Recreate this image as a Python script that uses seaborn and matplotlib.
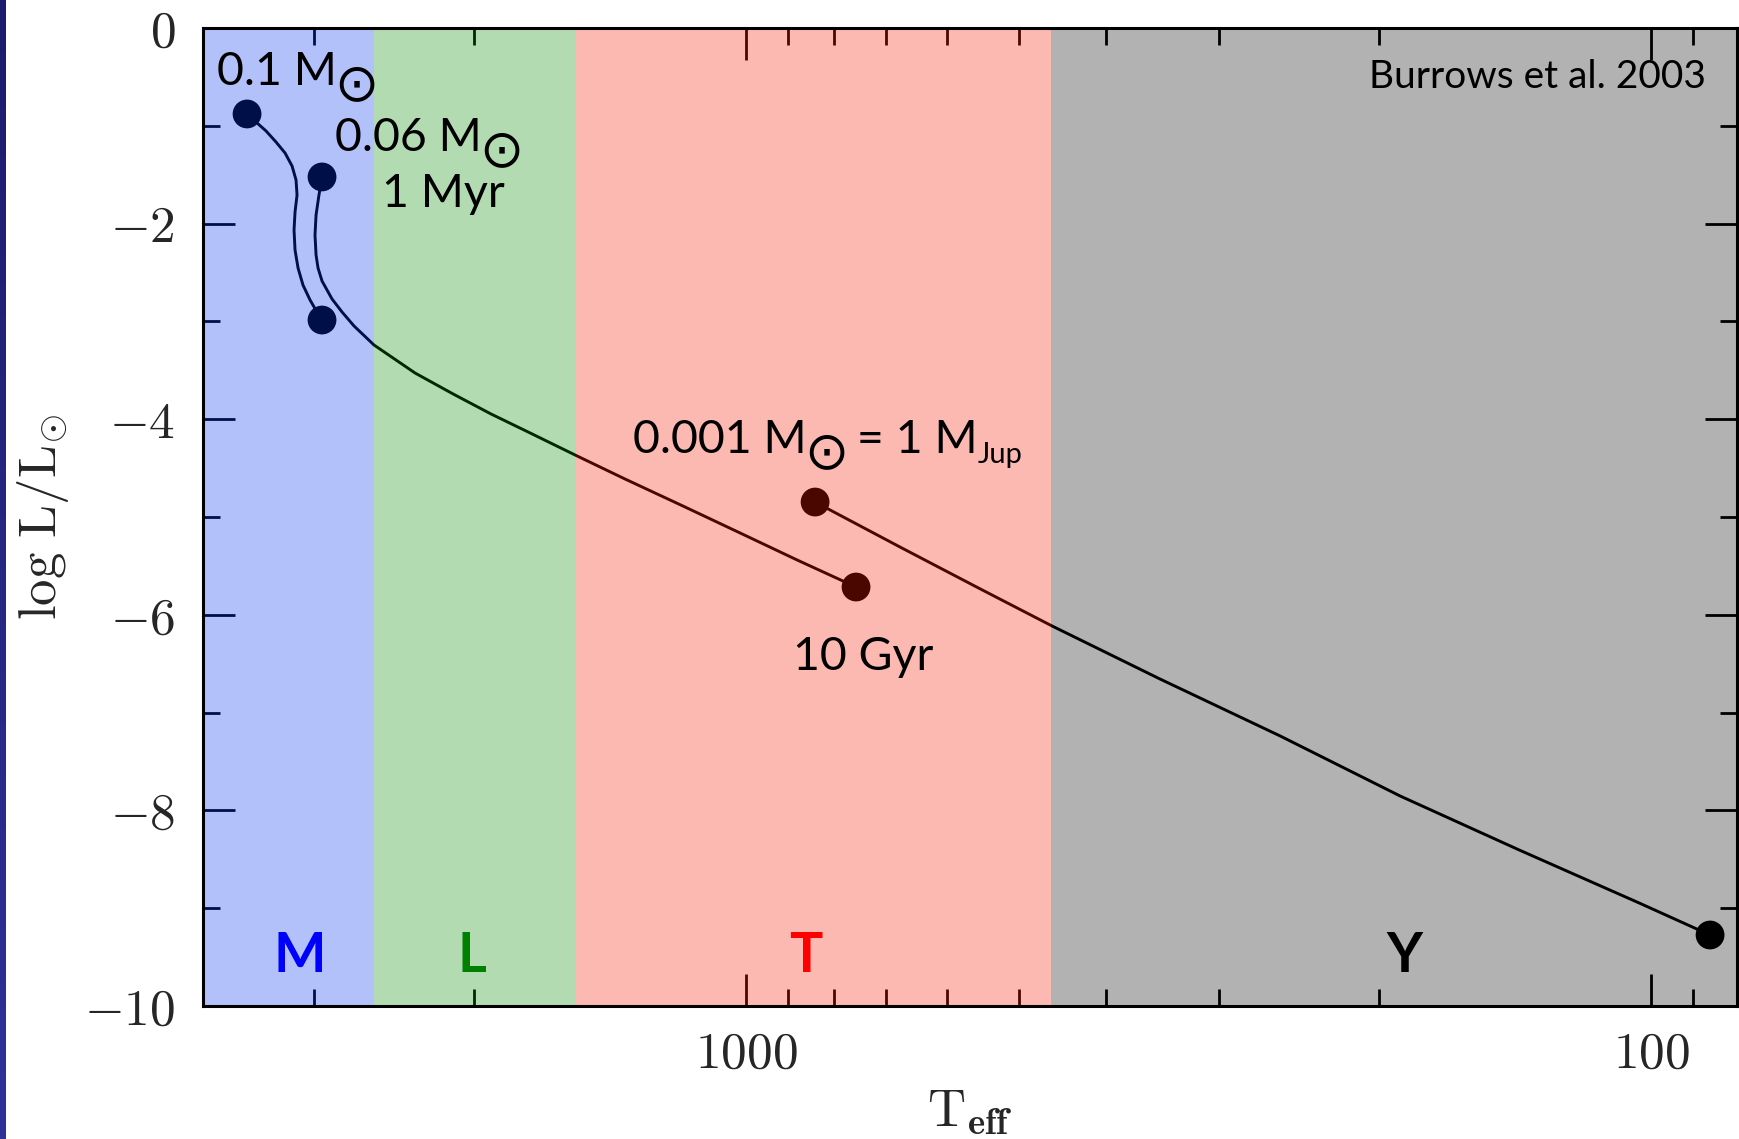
import numpy as np
import pandas as pd
import matplotlib
matplotlib.use("Agg")
import matplotlib.pyplot as plt
import matplotlib.transforms as mtransforms
import seaborn as sns
from matplotlib.ticker import FixedLocator, FixedFormatter, NullFormatter

# ---------------- data ----------------
track_01_T = [3559, 3479, 3391, 3306, 3231, 3174, 3142, 3134, 3150, 3158, 3150, 3126,
              3087, 3032, 2979, 2941]
track_01_L = [-0.879, -0.961, -1.053, -1.166, -1.278, -1.411, -1.554, -1.708, -1.881, -2.065,
              -2.270, -2.454, -2.628, -2.781, -2.904, -2.986]

track_006_T = [2941, 2964, 2986, 2994, 2986, 2971, 2941, 2867, 2795, 2711, 2577, 2321, 2107,
               1913, 1732, 1537, 1361, 1174, 1015, 878, 756]
track_006_L = [-1.523, -1.708, -1.912, -2.117, -2.321, -2.454, -2.587, -2.771, -2.904, -3.047,
               -3.241, -3.528, -3.742, -3.947, -4.141, -4.376, -4.611, -4.888, -5.164, -5.440,
               -5.716]

track_0001_T = [839, 676, 551, 459, 349, 257, 189.4, 139.9, 103.1, 86.1]
track_0001_L = [-4.847, -5.307, -5.736, -6.115, -6.656, -7.239, -7.853, -8.405, -8.947, -9.274]

track_names = ["0.1", "0.06", "0.001"]

band_edges_T = [6000, 2580, 1540, 460, 50]
band_names = ["M", "L", "T", "Y"]
band_colors = ["#0234ee", "#008a00", "#f81900", "#000000"]
band_text_colors = ["#0000ff", "#008000", "#ff0000", "#000000"]
band_label_T = [3110, 2009, 859, 187.5]

x_major = [1000, 100]
x_major_labels = ["$1000$", "$100$"]
x_minor = [3000, 2000, 900, 800, 700, 600, 500, 400, 300, 200, 90]
y_major = [0, -2, -4, -6, -8, -10]
y_major_labels = ["$0$", "$-2$", "$-4$", "$-6$", "$-8$", "$-10$"]
y_minor = [-1, -3, -5, -7, -9]

# ---------------- frames ----------------
tracks = pd.concat([
    pd.DataFrame({"track": n, "T": t, "logL": l})
    for n, t, l in zip(track_names,
                       [track_01_T, track_006_T, track_0001_T],
                       [track_01_L, track_006_L, track_0001_L])
], ignore_index=True)
dots = pd.concat([g.iloc[[0, -1]] for _, g in tracks.groupby("track", sort=False)],
                 ignore_index=True)

# ---------------- style ----------------
sns.set_style("ticks")
plt.rcParams["font.family"] = ["Lato", "DejaVu Sans"]
plt.rcParams["mathtext.fontset"] = "cm"

W, H = 1739, 1139
fig = plt.figure(figsize=(W / 100, H / 100), dpi=100, facecolor="white")
ax = fig.add_axes([203 / W, 1 - 1006 / H, (1737 - 203) / W, (1006 - 28) / H])
ax.set_facecolor("white")

# navy strip on left edge of slide
sax = fig.add_axes([0, 0, 6 / W, 1])
grad = np.linspace(0, 1, 256)[:, None, None]
top = np.array([28, 28, 108]) / 255
bot = np.array([46, 50, 152]) / 255
sax.imshow(top + (bot - top) * grad, aspect="auto", extent=[0, 1, 0, 1])
sax.set_axis_off()

# tracks and dots
sns.lineplot(data=tracks, x="T", y="logL", units="track", estimator=None, sort=False,
             color="black", linewidth=2.1, ax=ax, legend=False, zorder=2)
sns.scatterplot(data=dots, x="T", y="logL", s=430, color="black", edgecolor="none",
                ax=ax, legend=False, zorder=2.2)

ax.set_xscale("log")
ax.set_xlim(3981, 80.4)
ax.set_ylim(-10, 0)

# spectral class bands (translucent overlay)
for lo, hi, c in zip(band_edges_T[:-1], band_edges_T[1:], band_colors):
    ax.axvspan(lo, hi, color=c, alpha=0.3, lw=0, zorder=3)
for name, tx, c in zip(band_names, band_label_T, band_text_colors):
    ax.text(tx, -9.65, name, color=c, fontsize=40, fontweight="bold",
            ha="center", va="baseline", zorder=6)

# ---------------- annotations (laid out segment by segment) ----------------
renderer = fig.canvas.get_renderer()
ident = mtransforms.IdentityTransform()
AFS = 33.5
SUN = ("$\\odot$", dict(fontsize=38, math_fontfamily="dejavusans", va="center"), -3, -2)


def seg(s, dy=0, gap=0, **kw):
    kw.setdefault("fontsize", AFS)
    kw.setdefault("va", "baseline")
    return (s, kw, gap, dy)


def rich_text(x, y, segments):
    px, py = ax.transData.transform((x, y))
    for s, kw, gap, dy in segments:
        px += gap
        t = fig.text(px, py + dy, s, transform=ident, ha="left", color="black",
                     zorder=6, **kw)
        px += t.get_window_extent(renderer).width


rich_text(3842, -0.583, [seg("0.1 M"), SUN])
rich_text(2846, -1.258, [seg("0.06 M"), SUN])
rich_text(2525, -1.83, [seg("1 Myr")])
rich_text(1333, -4.346, [seg("0.001 M"), SUN, seg(" = 1 M", gap=0),
                         seg("Jup", dy=-10, fontsize=21)])
rich_text(887, -6.564, [seg("10 Gyr")])
ax.text(0.980, 0.9387, "Burrows et al. 2003", transform=ax.transAxes, fontsize=28,
        ha="right", va="baseline", zorder=6, color="black")

# axes / ticks
ax.xaxis.set_major_locator(FixedLocator(x_major))
ax.xaxis.set_major_formatter(FixedFormatter(x_major_labels))
ax.xaxis.set_minor_locator(FixedLocator(x_minor))
ax.xaxis.set_minor_formatter(NullFormatter())
ax.yaxis.set_major_locator(FixedLocator(y_major))
ax.yaxis.set_major_formatter(FixedFormatter(y_major_labels))
ax.yaxis.set_minor_locator(FixedLocator(y_minor))

ax.tick_params(which="both", direction="in", top=True, right=True, width=2, color="black")
ax.tick_params(which="major", length=23, labelsize=37)
ax.tick_params(which="minor", length=12)
ax.tick_params(axis="y", which="major", pad=20)
ax.tick_params(axis="x", which="major", pad=18)

for sp in ax.spines.values():
    sp.set_linewidth(2.2)
    sp.set_color("black")
    sp.set_zorder(5)

ax.set_xlabel(r"$\mathrm{T}_{\mathbf{eff}}$", fontsize=38)
ax.set_ylabel(r"$\mathrm{log\ L/L}_{\odot}$", fontsize=38)
ax.xaxis.set_label_coords(0.5, -0.084)
ax.yaxis.set_label_coords(-0.086, 0.5)

fig.savefig("out.png", dpi=100, facecolor="white")
